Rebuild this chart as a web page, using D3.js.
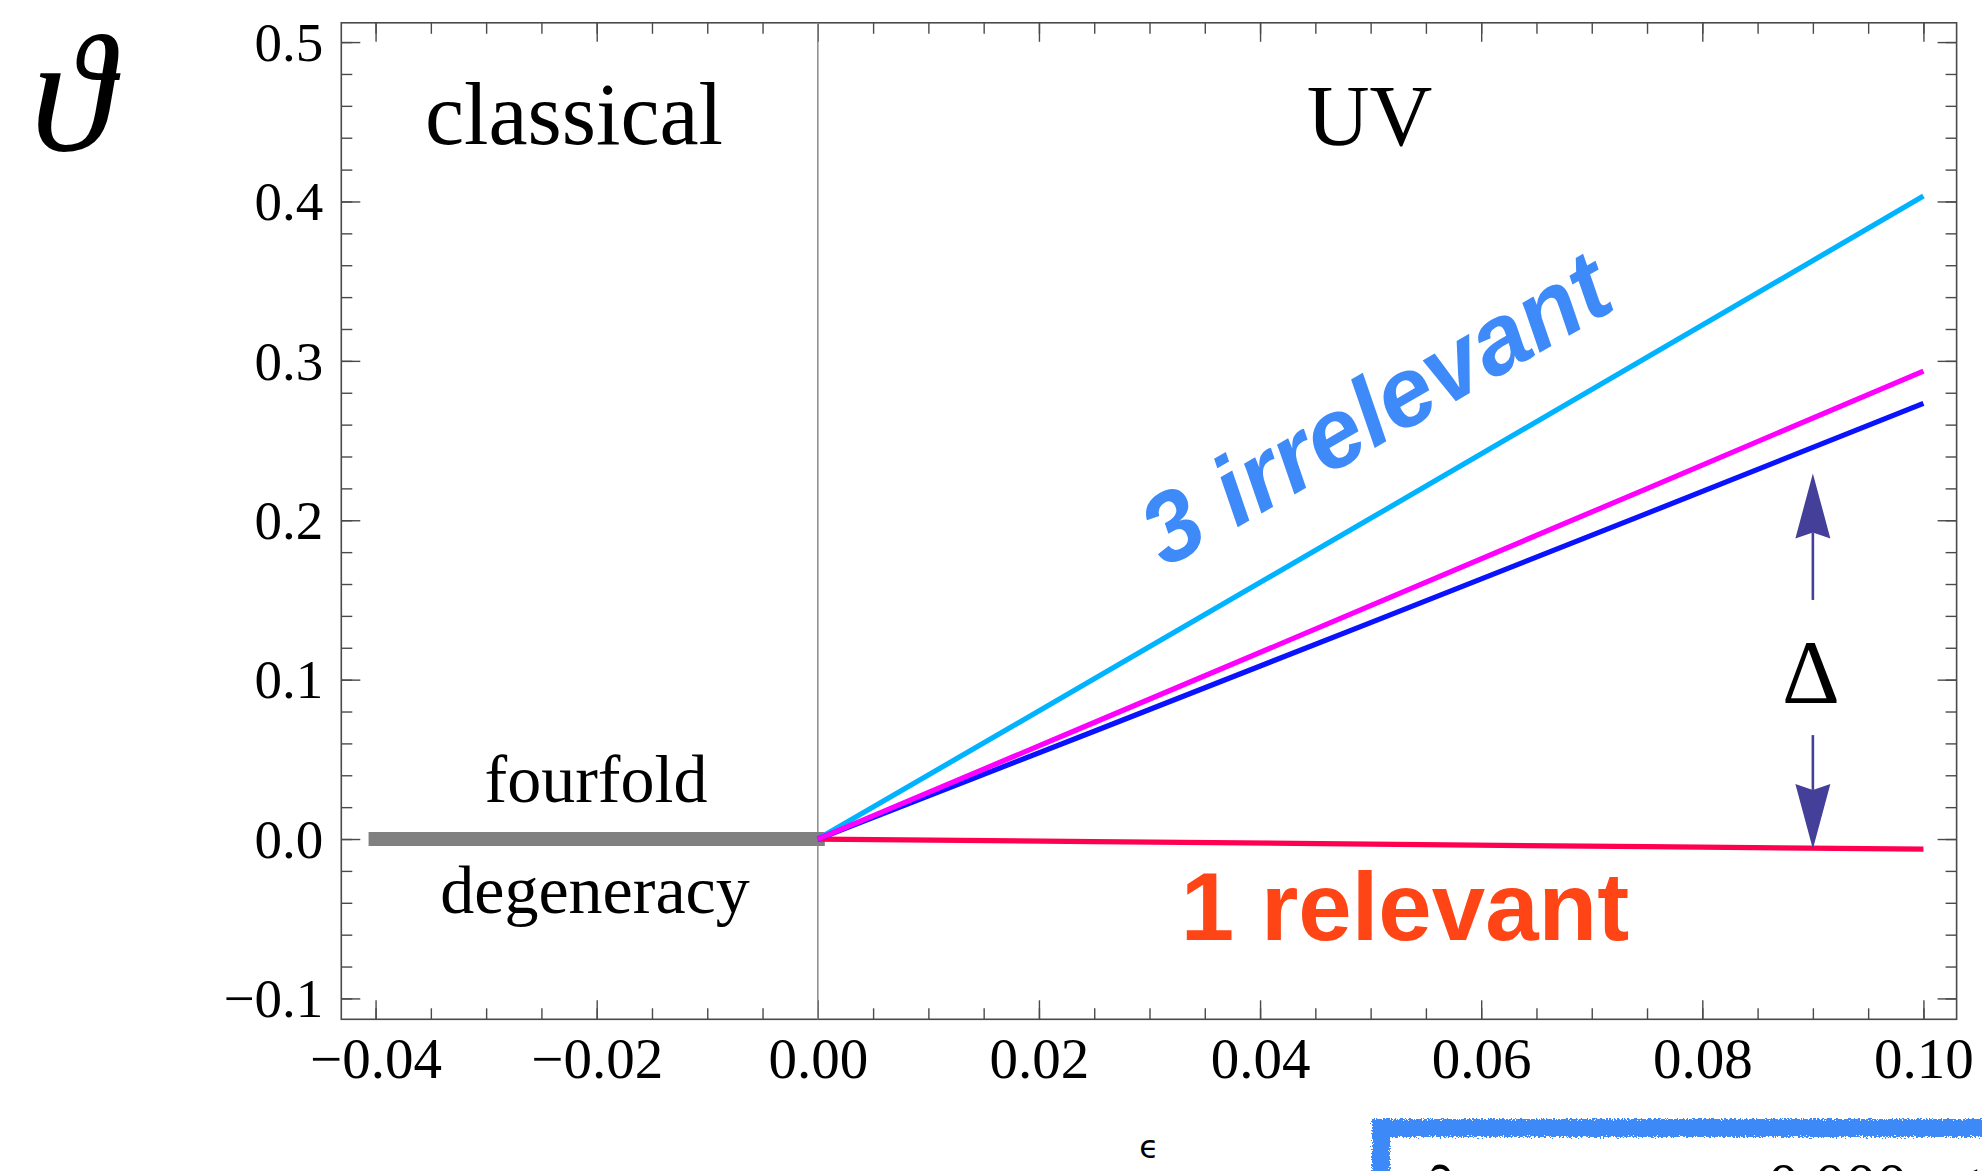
<!DOCTYPE html>
<html>
<head>
<meta charset="utf-8">
<script src="https://cdn.jsdelivr.net/npm/d3@7"></script>
<style>
  html, body { margin: 0; padding: 0; background: #ffffff; }
  svg { display: block; }
</style>
</head>
<body>
<svg id="chart" width="1982" height="1171"></svg>
<script>
// ---- data -------------------------------------------------------------
// critical exponents ϑ as functions of ε
const epsUV = [0, 0.025, 0.05, 0.075, 0.10];
const thetaIrrelevantA = [0, 0.1005, 0.2012, 0.3022, 0.4034];   // cyan
const thetaIrrelevantB = [0, 0.0731, 0.1464, 0.2199, 0.2936];   // magenta
const thetaIrrelevantC = [0, 0.0676, 0.1358, 0.2043, 0.2733];   // blue
const thetaRelevant    = [0, -0.0016, -0.0032, -0.0048, -0.0063]; // red

const epsClassical = [-0.04, 0];
const thetaClassical = [0, 0];   // fourfold degenerate

// gap Δ between the relevant and irrelevant directions
const deltaEps = 0.09;
const deltaUp = [0.150, 0.2294];
const deltaDown = [0.0652, -0.0062];

// axes
const xMajor = [-0.04, -0.02, 0.00, 0.02, 0.04, 0.06, 0.08, 0.10];
const xMajorLabels = ["\u22120.04", "\u22120.02", "0.00", "0.02", "0.04", "0.06", "0.08", "0.10"];
const yMajor = [-0.1, 0.0, 0.1, 0.2, 0.3, 0.4, 0.5];
const yMajorLabels = ["\u22120.1", "0.0", "0.1", "0.2", "0.3", "0.4", "0.5"];

// ---- layout -----------------------------------------------------------
const svg = d3.select("#chart");
const L = 341.3, R = 1956.6, T = 22.8, B = 1019.3;

const x = d3.scaleLinear().domain([-0.0431, 0.1030]).range([L, R]);
const y = d3.scaleLinear().domain([-0.1131, 0.5121]).range([B, T]);

const xMinor = d3.range(-0.045, 0.1051, 0.005).map(v => +v.toFixed(3))
  .filter(v => v >= x.domain()[0] && v <= x.domain()[1]);
const yMinor = d3.range(-0.12, 0.52, 0.02).map(v => +v.toFixed(2))
  .filter(v => v >= y.domain()[0] && v <= y.domain()[1]);

const frameColor = "#4a4a4a";
const MAJOR = 19, MINOR = 11;

// ---- frame ticks ------------------------------------------------------
function drawAxis(axis, tx, ty) {
  const g = svg.append("g")
    .attr("transform", `translate(${tx},${ty})`)
    .style("color", frameColor)
    .call(axis);
  g.select(".domain").remove();
  g.selectAll(".tick line").attr("stroke-width", 1.4);
  return g;
}

// minor ticks on all four sides
drawAxis(d3.axisBottom(x).tickValues(xMinor).tickSizeInner(-MINOR).tickSizeOuter(0).tickFormat(() => ""), 0, B);
drawAxis(d3.axisTop(x).tickValues(xMinor).tickSizeInner(-MINOR).tickSizeOuter(0).tickFormat(() => ""), 0, T);
drawAxis(d3.axisLeft(y).tickValues(yMinor).tickSizeInner(-MINOR).tickSizeOuter(0).tickFormat(() => ""), L, 0);
drawAxis(d3.axisRight(y).tickValues(yMinor).tickSizeInner(-MINOR).tickSizeOuter(0).tickFormat(() => ""), R, 0);

// major ticks
const gx = drawAxis(d3.axisBottom(x).tickValues(xMajor).tickSizeInner(-MAJOR).tickSizeOuter(0)
  .tickFormat((d, i) => xMajorLabels[i]), 0, B);
gx.selectAll("text")
  .attr("y", 59).attr("dy", null)
  .attr("fill", "#000")
  .style("font-family", "'Liberation Serif', 'Times New Roman', serif")
  .style("font-size", "57px");

const gy = drawAxis(d3.axisLeft(y).tickValues(yMajor).tickSizeInner(-MAJOR).tickSizeOuter(0).tickPadding(18)
  .tickFormat((d, i) => yMajorLabels[i]), L, 0);
gy.selectAll("text")
  .attr("dy", "0.33em")
  .attr("fill", "#000")
  .style("font-family", "'Liberation Serif', 'Times New Roman', serif")
  .style("font-size", "55px");

drawAxis(d3.axisTop(x).tickValues(xMajor).tickSizeInner(-MAJOR).tickSizeOuter(0).tickFormat(() => ""), 0, T);
drawAxis(d3.axisRight(y).tickValues(yMajor).tickSizeInner(-MAJOR).tickSizeOuter(0).tickFormat(() => ""), R, 0);

// frame
svg.append("rect")
  .attr("x", L).attr("y", T).attr("width", R - L).attr("height", B - T)
  .attr("fill", "none").attr("stroke", frameColor).attr("stroke-width", 1.6);

// vertical axis through ε = 0
svg.append("line")
  .attr("x1", x(0)).attr("x2", x(0)).attr("y1", T).attr("y2", B)
  .attr("stroke", "#8a8a8a").attr("stroke-width", 1.5);

// ---- curves -----------------------------------------------------------
const line = d3.line().x(d => x(d[0])).y(d => y(d[1]));

svg.append("path")
  .datum(d3.zip(epsClassical, thetaClassical))
  .attr("d", line)
  .attr("fill", "none").attr("stroke", "#808080")
  .attr("stroke-width", 14).attr("stroke-linecap", "square");

const series = [
  { values: thetaRelevant,    color: "#ff0050" },
  { values: thetaIrrelevantA, color: "#00b3ff" },
  { values: thetaIrrelevantC, color: "#0a12ff" },
  { values: thetaIrrelevantB, color: "#ff00ff" }
];
series.forEach(s => {
  svg.append("path")
    .datum(d3.zip(epsUV, s.values))
    .attr("d", line)
    .attr("fill", "none").attr("stroke", s.color)
    .attr("stroke-width", 5.2);
});

// ---- Δ arrows -----------------------------------------------------------
const arrowColor = "#443f98";
function arrow(from, to) {
  const ax = x(deltaEps), y0 = y(from), y1 = y(to);
  const dir = y1 < y0 ? 1 : -1;          // +1: head points up
  const headLen = 65, notch = 59, halfW = 17.5;
  svg.append("line")
    .attr("x1", ax).attr("x2", ax)
    .attr("y1", y0).attr("y2", y1 + dir * notch)
    .attr("stroke", arrowColor).attr("stroke-width", 2.6);
  svg.append("path")
    .attr("d", `M${ax},${y1} L${ax + halfW},${y1 + dir * headLen} L${ax},${y1 + dir * notch} L${ax - halfW},${y1 + dir * headLen} Z`)
    .attr("fill", arrowColor);
}
arrow(deltaUp[0], deltaUp[1]);
arrow(deltaDown[0], deltaDown[1]);

svg.append("text")
  .attr("x", x(deltaEps) - 2).attr("y", 702.7)
  .attr("text-anchor", "middle")
  .style("font-family", "'Liberation Serif', 'Times New Roman', serif")
  .style("font-size", "90px")
  .text("\u0394");

// ---- annotations --------------------------------------------------------
const serif = "'Liberation Serif', 'Times New Roman', serif";
function label(txt, px, py, size, anchor = "middle") {
  return svg.append("text")
    .attr("x", px).attr("y", py)
    .attr("text-anchor", anchor)
    .style("font-family", serif)
    .style("font-size", size + "px")
    .text(txt);
}
label("classical", 574, 144, 88);
label("UV", 1369.5, 145, 87);
label("fourfold", 596, 801.7, 68);
label("degeneracy", 595, 913, 68);

// y-axis symbol
svg.append("text")
  .attr("x", 72).attr("y", 150)
  .attr("text-anchor", "middle")
  .style("font-family", serif)
  .style("font-style", "italic")
  .style("font-size", "168px")
  .text("\u03D1");

// x-axis symbol
svg.append("text")
  .attr("x", 1149).attr("y", 1158)
  .attr("text-anchor", "middle")
  .style("font-family", "'DejaVu Sans', sans-serif")
  .style("font-size", "32px")
  .text("\u03F5");

svg.append("text")
  .attr("transform", "translate(1392,438) rotate(-30)")
  .attr("text-anchor", "middle")
  .attr("fill", "#3e8af8")
  .style("font-family", "'Liberation Sans', Arial, sans-serif")
  .style("font-weight", "bold")
  .style("font-style", "italic")
  .style("font-size", "98px")
  .text("3 irrelevant");

svg.append("text")
  .attr("x", 1405).attr("y", 939.5)
  .attr("text-anchor", "middle")
  .attr("fill", "#ff4516")
  .style("font-family", "'Liberation Sans', Arial, sans-serif")
  .style("font-weight", "bold")
  .style("font-size", "96px")
  .text("1 relevant");

// ---- hand-drawn box at the lower right ----------------------------------
const defs = svg.append("defs");
const f = defs.append("filter").attr("id", "rough")
  .attr("x", "-5%").attr("y", "-5%").attr("width", "110%").attr("height", "110%");
f.append("feTurbulence").attr("type", "fractalNoise").attr("baseFrequency", 0.6)
  .attr("numOctaves", 2).attr("seed", 4).attr("result", "noise");
f.append("feDisplacementMap").attr("in", "SourceGraphic").attr("in2", "noise")
  .attr("scale", 7).attr("xChannelSelector", "R").attr("yChannelSelector", "G");

svg.append("rect")
  .attr("x", 1381).attr("y", 1128).attr("width", 700).attr("height", 200)
  .attr("fill", "none").attr("stroke", "#3d89f7").attr("stroke-width", 18)
  .attr("filter", "url(#rough)");

svg.append("text")
  .attr("x", 1422).attr("y", 1212)
  .style("font-family", serif).style("font-style", "italic").style("font-size", "66px")
  .text("\u2202");
svg.append("text")
  .attr("x", 1768).attr("y", 1205)
  .style("font-family", serif).style("font-size", "62px")
  .text("0.000");
svg.append("text")
  .attr("x", 1962).attr("y", 1210)
  .style("font-family", serif).style("font-size", "62px")
  .text("\u2018");
</script>
</body>
</html>
